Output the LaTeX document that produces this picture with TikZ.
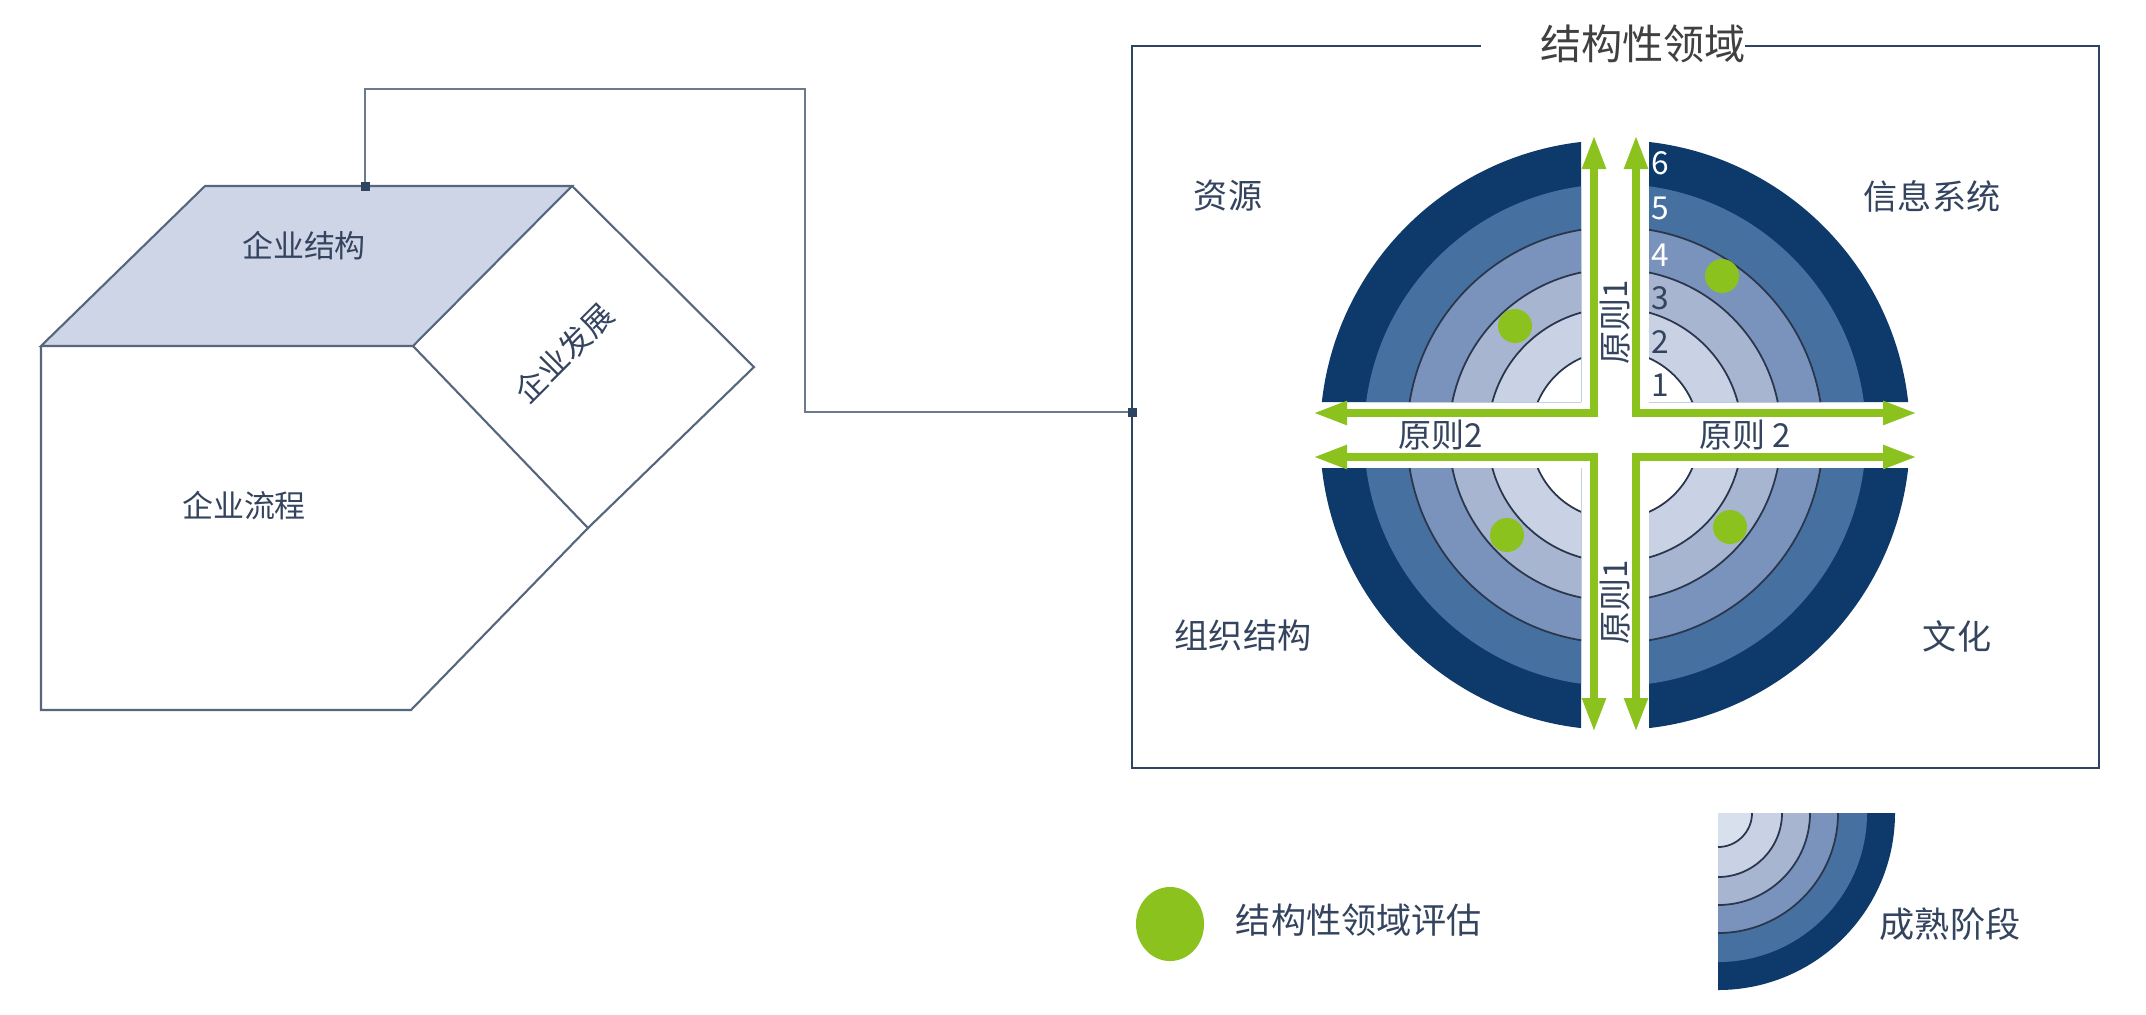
\documentclass[tikz,border=0pt]{standalone}
\usepackage{fontspec}
\newfontfamily\cjk{Noto Sans CJK SC}
\usetikzlibrary{arrows.meta,shapes.geometric}
\definecolor{ringA}{HTML}{C9D2E5}
\definecolor{ringB}{HTML}{A7B5D1}
\definecolor{ringC}{HTML}{7A93BC}
\definecolor{ringD}{HTML}{46709F}
\definecolor{ringE}{HTML}{0E3A6B}
\definecolor{ring0}{HTML}{D9E0ED}
\definecolor{grn}{HTML}{8CC21E}
\definecolor{txt}{HTML}{34445F}
\definecolor{edgec}{HTML}{56667C}
\definecolor{topface}{HTML}{CDD5E7}
\definecolor{boxc}{HTML}{2E4562}
\definecolor{connc}{HTML}{6B7A8C}
\begin{document}
\begin{tikzpicture}[x=0.01cm,y=-0.01cm,
  every node/.style={font=\cjk, text=txt, inner sep=0pt},
  face/.style={draw=edgec, line width=0.6pt, line join=miter},
  conn/.style={draw=connc, line width=0.6pt},
  sqdot/.style={rectangle, fill=boxc, minimum size=0.09cm},
  gdot/.style={circle, fill=grn, minimum size=0.34cm},
  garrow/.style={draw=grn, line width=0.08cm,
     {Triangle[length=0.34cm,width=0.22cm]}-{Triangle[length=0.34cm,width=0.22cm]}},
  ringline/.style={draw=txt!80!black, line width=0.5pt},
  cubelbl/.style={font=\cjk\fontsize{8.8pt}{10pt}\selectfont},
  arealbl/.style={font=\cjk\fontsize{9.7pt}{11pt}\selectfont},
  rulelbl/.style={font=\cjk\fontsize{9.4pt}{11pt}\selectfont},
  digit/.style={font=\cjk\fontsize{9pt}{10pt}\selectfont},
  legendlbl/.style={font=\cjk\fontsize{10pt}{12pt}\selectfont}]
\useasboundingbox (0,0) rectangle (2146,1014);
\fill[white] (0,0) rectangle (2146,1014);

% ---------- cube ----------
\coordinate (A) at (205,186);
\coordinate (B) at (572,186);
\coordinate (C) at (413,346);
\coordinate (D) at (41,346);
\coordinate (E) at (754,367);
\coordinate (F) at (588,528);
\coordinate (G) at (411,710);
\coordinate (H) at (41,710);
\filldraw[face, fill=topface] (A) -- (B) -- (C) -- (D) -- cycle;
\draw[face] (B) -- (E) -- (F) -- (C);
\draw[face] (D) -- (H) -- (G) -- (F);
\node[cubelbl] (ks) at (304,246) {企业结构};
\node[cubelbl, rotate=45] (kf) at (564,353) {企业发展};
\node[cubelbl] (kl) at (244,506) {企业流程};

% ---------- connector ----------
\coordinate (dotA) at (365,186);
\coordinate (bend) at (805,89);
\coordinate (dotB) at (1132,412);
\draw[conn] (dotA) |- (bend) |- (dotB);

% ---------- frame ----------
\draw[draw=boxc, line width=0.8pt] (1481,46) -- (1132,46) -- (1132,768) -- (2099,768) -- (2099,46) -- (1745,46);
\node[font=\cjk\fontsize{11.7pt}{13pt}\selectfont, text=black!75] (title) at (1643,44) {结构性领域};
\node[sqdot] (sqA) at (dotA) {};
\node[sqdot] (sqB) at (dotB) {};

% ---------- rings ----------
\coordinate (ctr) at (1615,435);
\begin{scope}
  \clip (1300,120) rectangle (1581,402) (1649,120) rectangle (1930,402)
        (1300,468) rectangle (1581,750) (1649,468) rectangle (1930,750);
  \foreach \r/\c in {295/ringE,251/ringD,208/ringC,166/ringB,127/ringA,84/white}
    \fill[\c] (ctr) circle[radius=\r];
  \foreach \r in {84,127,166,208}
    \draw[ringline] (ctr) circle[radius=\r];
\end{scope}

% ---------- green arrows ----------
\coordinate (ulT) at (1594,135);  \coordinate (ulL) at (1313,413);
\coordinate (urT) at (1636,135);  \coordinate (urR) at (1917,413);
\coordinate (llL) at (1313,457);  \coordinate (llB) at (1594,732);
\coordinate (lrR) at (1917,457);  \coordinate (lrB) at (1636,732);
\draw[garrow] (ulT) |- (ulL);
\draw[garrow] (urT) |- (urR);
\draw[garrow] (llL) -| (llB);
\draw[garrow] (lrR) -| (lrB);

% ---------- labels ----------
\node[arealbl] (zy) at (1228,196) {资源};
\node[arealbl] (xx) at (1932,196) {信息系统};
\node[arealbl] (zz) at (1243,636) {组织结构};
\node[arealbl] (wh) at (1957,636) {文化};
\node[rulelbl] (r2l) at (1441,435) {原则2};
\node[rulelbl] (r2r) at (1745,435) {原则 2};
\node[rulelbl, rotate=90] (r1u) at (1615,322) {原则1};
\node[rulelbl, rotate=90] (r1d) at (1615,602) {原则1};

\node[digit] (n1) at (1660,385) {1};
\node[digit] (n2) at (1660,342) {2};
\node[digit] (n3) at (1660,298) {3};
\node[digit, text=white] (n4) at (1660,255) {4};
\node[digit, text=white] (n5) at (1660,208) {5};
\node[digit, text=white] (n6) at (1660,163) {6};

% ---------- assessment dots ----------
\node[gdot] (d1) at (1722,276) {};
\node[gdot] (d2) at (1515,326) {};
\node[gdot] (d3) at (1507,535) {};
\node[gdot] (d4) at (1730,527) {};

% ---------- legend ----------
\node[ellipse, fill=grn, minimum width=0.68cm, minimum height=0.74cm] (lg) at (1170,924) {};
\node[legendlbl] (lgt) at (1359,920) {结构性领域评估};
\coordinate (qc) at (1718,813);
\begin{scope}
  \clip (1718,813) rectangle (1905,1000);
  \foreach \r/\c in {177/ringE,149/ringD,120/ringC,92/ringB,64/ringA,34/ring0}
    \fill[\c] (qc) circle[radius=\r];
  \foreach \r in {34,64,92,120}
    \draw[ringline] (qc) circle[radius=\r];
\end{scope}
\node[legendlbl] (lqt) at (1950,924) {成熟阶段};
\end{tikzpicture}
\end{document}
